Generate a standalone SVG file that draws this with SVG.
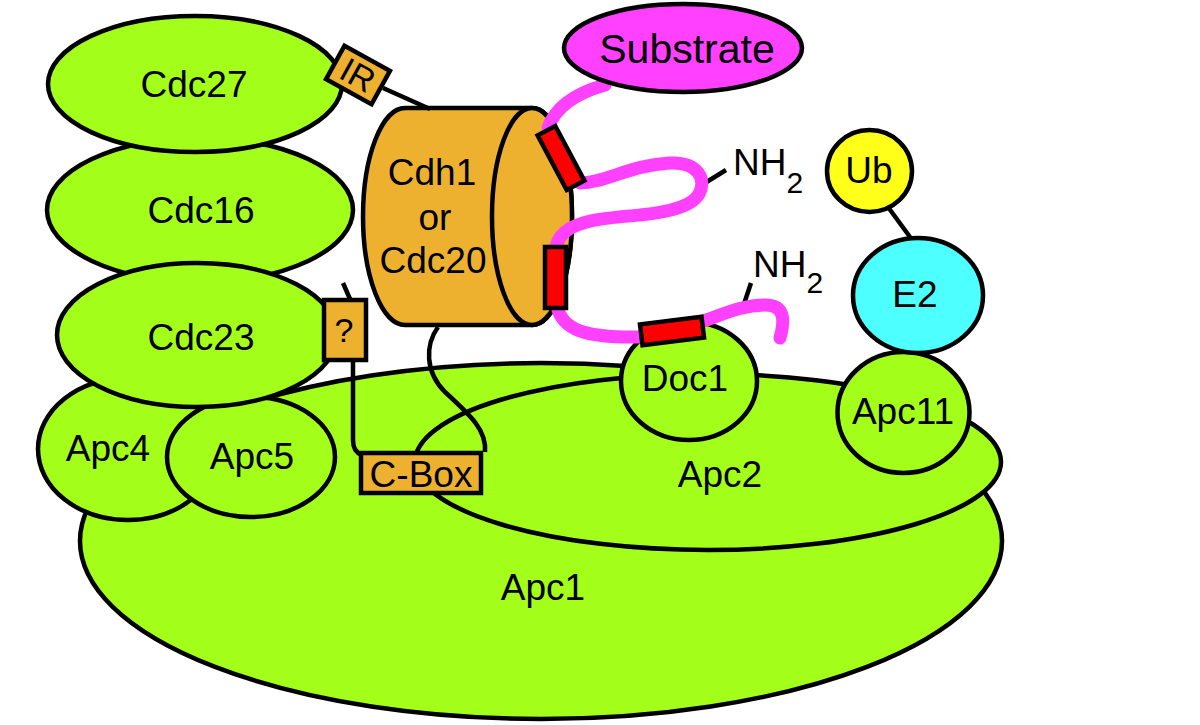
<svg xmlns="http://www.w3.org/2000/svg" width="1200" height="725" viewBox="0 0 1200 725">
<defs>
<style>
.g{fill:#a3ff1a;stroke:#000;stroke-width:4.5}
.o{fill:#edb12f;stroke:#000;stroke-width:4.5}
.r{fill:#ff0000;stroke:#000;stroke-width:4.5}
.ln{fill:none;stroke:#000;stroke-width:4.5}
.mg{fill:none;stroke:#ff40ff;stroke-width:13;stroke-linecap:round}
text{font-family:"Liberation Sans",Arial,Helvetica,sans-serif;font-size:37px;fill:#000;text-anchor:middle}
.st{text-anchor:start}
</style>
</defs>
<rect width="1200" height="725" fill="#fff"/>
<g id="apc1"><ellipse class="g" cx="541" cy="541" rx="461" ry="178"/><text x="543" y="600">Apc1</text></g>
<g id="apc2"><ellipse class="g" cx="708" cy="462" rx="293" ry="88"/><text x="720" y="487">Apc2</text></g>
<g id="doc1"><ellipse class="g" cx="689" cy="381" rx="68" ry="59"/><text x="685" y="391">Doc1</text></g>
<g id="apc11"><ellipse class="g" cx="903.5" cy="412.5" rx="66" ry="60.5"/><text x="903" y="424">Apc11</text></g>
<g id="apc4"><ellipse class="g" cx="128" cy="449" rx="90" ry="71"/><text x="108" y="461">Apc4</text></g>
<g id="apc5"><ellipse class="g" cx="251" cy="457" rx="84" ry="60"/><text x="252" y="469">Apc5</text></g>
<g id="cdc16"><ellipse class="g" cx="200" cy="210" rx="153" ry="72"/><text x="201" y="223">Cdc16</text></g>
<g id="cdc27"><ellipse class="g" cx="195" cy="84" rx="147" ry="68"/><text x="194" y="97">Cdc27</text></g>
<g id="cdc23"><ellipse class="g" cx="197" cy="335" rx="140" ry="72"/><text x="201" y="350">Cdc23</text></g>
<g id="cdh1">
<path class="o" d="M405 108 L532 108 A40 108.5 0 0 1 532 325 L405 325 A42 108.5 0 0 1 405 108 Z"/>
<ellipse class="o" cx="532" cy="216.5" rx="40" ry="108.5"/>
<text x="432" y="185">Cdh1</text>
<text x="435" y="230">or</text>
<text x="433" y="273">Cdc20</text>
</g>
<g id="connectors">
<line class="ln" x1="383" y1="88" x2="430" y2="109"/>
<line class="ln" x1="350" y1="299" x2="343" y2="283"/>
<path class="ln" d="M353 362 L353 440 Q353 452 362 455"/>
<path class="ln" d="M438 327 C425 345 425 372 445 392 C470 415 487 430 485 452"/>
<line class="ln" x1="888" y1="207" x2="910" y2="237"/>
<line class="ln" x1="705" y1="183" x2="726" y2="170"/>
<line class="ln" x1="743" y1="307" x2="751" y2="283"/>
<path class="mg" d="M605 85 C580 92 556 105 548 128"/>
<path class="mg" d="M580 183 C605 183 630 165 670 163 C700 162 705 180 700 192 C694 206 670 212 640 215 C605 218 580 220 565 232 C558 238 556 244 556 250"/>
<path class="mg" d="M557 306 C562 330 585 338 640 337"/>
<path class="mg" d="M700 322 C720 316 740 305 765 305 C785 305 785 320 780 338"/>
</g>
<g id="e2"><ellipse cx="918" cy="295.5" rx="65" ry="57.5" fill="#4dffff" stroke="#000" stroke-width="4.5"/><text x="915" y="307">E2</text></g>
<g id="ub"><ellipse cx="869.5" cy="171" rx="42.5" ry="41" fill="#ffff1a" stroke="#000" stroke-width="4.5"/><text x="869" y="183">Ub</text></g>
<g id="substrate"><ellipse cx="683" cy="48" rx="119" ry="44" fill="#ff40ff" stroke="#000" stroke-width="4.5"/><text x="687" y="63" style="font-size:41px">Substrate</text></g>
<g id="motifs">
<rect class="r" x="-31" y="-10" width="62" height="20" transform="translate(561 158) rotate(62)"/>
<rect class="r" x="545" y="247" width="21" height="61"/>
<rect class="r" x="-31" y="-10.5" width="62" height="21" transform="translate(672 331) rotate(-7)"/>
</g>
<g id="ir"><g transform="translate(358 75) rotate(29)"><rect class="o" x="-26" y="-19" width="52" height="38"/><text x="0" y="12" style="font-size:34px">IR</text></g></g>
<g id="q"><rect class="o" x="324" y="300" width="42" height="60"/><text x="344" y="342" style="font-size:34px">?</text></g>
<g id="cbox"><rect class="o" x="361" y="453" width="120" height="40"/><text x="421" y="487">C-Box</text></g>
<g id="nh2a"><text class="st" x="733" y="175">NH<tspan dy="18" style="font-size:30px">2</tspan></text></g>
<g id="nh2b"><text class="st" x="753" y="277">NH<tspan dy="16" style="font-size:30px">2</tspan></text></g>
</svg>
